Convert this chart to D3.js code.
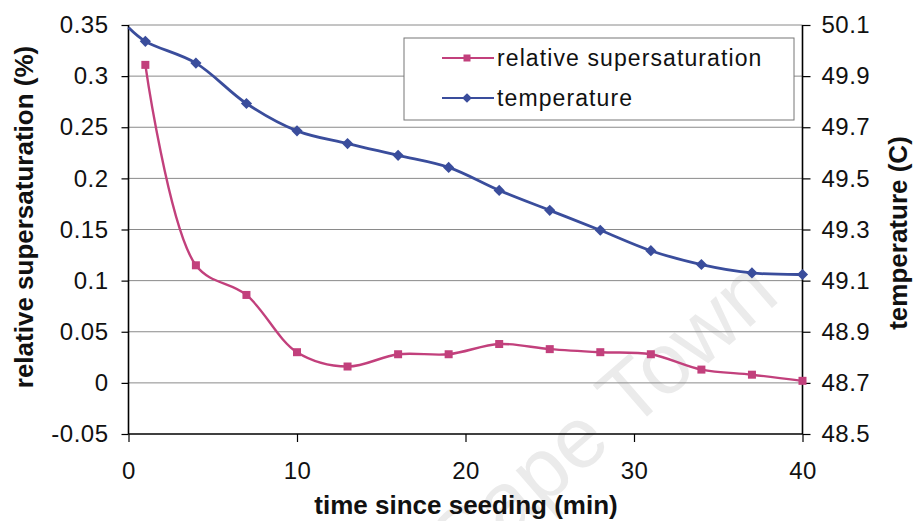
<!DOCTYPE html>
<html><head><meta charset="utf-8">
<script src="https://cdn.jsdelivr.net/npm/d3@7"></script>
<style>body{margin:0;background:#fff}svg{display:block}text{font-family:"Liberation Sans",Arial,sans-serif}</style>
</head><body>
<svg id="c" width="914" height="521"></svg>
<script>
const timeMin = [1, 4, 7, 10, 13, 16, 19, 22, 25, 28, 31, 34, 37, 40];
const supersat = [0.311, 0.115, 0.086, 0.030, 0.016, 0.028, 0.028, 0.038, 0.033, 0.030, 0.028, 0.013, 0.008, 0.002];
const tempTime = [0, 1, 4, 7, 10, 13, 16, 19, 22, 25, 28, 31, 34, 37, 40];
const temperature = [50.09, 50.036, 49.951, 49.793, 49.686, 49.636, 49.59, 49.543, 49.453, 49.375, 49.297, 49.217, 49.163, 49.13, 49.124];
const xTicks = [0, 10, 20, 30, 40];
const leftTicks = [-0.05, 0, 0.05, 0.1, 0.15, 0.2, 0.25, 0.3, 0.35];
const rightTicks = [48.5, 48.7, 48.9, 49.1, 49.3, 49.5, 49.7, 49.9, 50.1];
const seriesNames = ["relative supersaturation", "temperature"];

const pink = "#c2407c", blue = "#3a4d9c";
const svg = d3.select("#c");
const L = 128.5, R = 802.5, T = 25, B = 434;
const x = d3.scaleLinear().domain([0, 40]).range([L, R]);
const yL = d3.scaleLinear().domain([-0.05, 0.35]).range([B, T]);
const yR = d3.scaleLinear().domain([48.5, 50.1]).range([B, T]);

// watermark
svg.append("text").attr("transform", "translate(620,440) rotate(-41)")
  .attr("text-anchor", "middle").attr("font-size", 86).attr("fill", "#ebebeb")
  .text("Cape Town");

// gridlines
svg.append("g").selectAll("line").data(leftTicks.filter(d => d > -0.05)).join("line")
  .attr("x1", L).attr("x2", R).attr("y1", d => yL(d)).attr("y2", d => yL(d))
  .attr("stroke", "#8a8a8a").attr("stroke-width", 1);

const fmtL = d => String(+d.toFixed(2));
const fmtR = d => d.toFixed(1);

const gL = svg.append("g").attr("transform", `translate(${L},0)`)
  .call(d3.axisLeft(yL).tickValues(leftTicks).tickFormat(fmtL).tickSize(7).tickPadding(13));
const gR = svg.append("g").attr("transform", `translate(${R},0)`)
  .call(d3.axisRight(yR).tickValues(rightTicks).tickFormat(fmtR).tickSize(8).tickPadding(11));
const gB = svg.append("g").attr("transform", `translate(0,${B})`)
  .call(d3.axisBottom(x).tickValues(xTicks).tickSize(8).tickPadding(20));
[gL, gR, gB].forEach(g => {
  g.selectAll("path").attr("stroke", "#000").attr("stroke-width", 1.6);
  g.selectAll("line").attr("stroke", "#000").attr("stroke-width", 1.2);
  g.selectAll("text").attr("font-size", 24).attr("fill", "#111").attr("letter-spacing", 0.5)
    .attr("font-family", "'Liberation Sans', Arial, sans-serif");
});
gL.select(".domain").attr("d", `M0,${B}V${T}`);
gR.select(".domain").attr("d", `M0,${B}V${T}`);
gB.select(".domain").attr("d", `M${L},0H${R}`);

// lines
const curve = d3.curveCatmullRom.alpha(0.5);
const tData = tempTime.map((t, i) => [t, temperature[i]]);
const sData = timeMin.map((t, i) => [t, supersat[i]]);
svg.append("path").datum(tData)
  .attr("d", d3.line().x(d => x(d[0])).y(d => yR(d[1])).curve(curve))
  .attr("fill", "none").attr("stroke", blue).attr("stroke-width", 2.8);
svg.append("path").datum(sData)
  .attr("d", d3.line().x(d => x(d[0])).y(d => yL(d[1])).curve(curve))
  .attr("fill", "none").attr("stroke", pink).attr("stroke-width", 2.4);

// markers
svg.append("g").selectAll("path").data(tData.slice(1)).join("path")
  .attr("transform", d => `translate(${x(d[0])},${yR(d[1])})`)
  .attr("d", d3.symbol(d3.symbolDiamond2, 80)).attr("fill", blue);
svg.append("g").selectAll("rect").data(sData).join("rect")
  .attr("x", d => x(d[0]) - 4).attr("y", d => yL(d[1]) - 4)
  .attr("width", 8).attr("height", 8).attr("fill", pink);

// legend
const lg = svg.append("g");
lg.append("rect").attr("x", 404).attr("y", 38).attr("width", 390).attr("height", 82)
  .attr("fill", "#fff").attr("stroke", "#777").attr("stroke-width", 1);
const legY = [58, 98], legC = [pink, blue];
seriesNames.forEach((n, i) => {
  lg.append("line").attr("x1", 442).attr("x2", 494).attr("y1", legY[i]).attr("y2", legY[i])
    .attr("stroke", legC[i]).attr("stroke-width", 2);
  if (i === 0) lg.append("rect").attr("x", 463.5).attr("y", legY[i] - 3.5).attr("width", 7).attr("height", 7).attr("fill", pink);
  else lg.append("path").attr("transform", `translate(467,${legY[i]})`).attr("d", d3.symbol(d3.symbolDiamond2, 60)).attr("fill", blue);
  lg.append("text").attr("x", 497).attr("y", legY[i] + 7.5).attr("font-size", 23).attr("letter-spacing", 1.1)
    .attr("fill", "#111").text(n);
});

// titles
svg.append("text").attr("transform", "translate(33,217) rotate(-90)").attr("text-anchor", "middle")
  .attr("font-size", 26).attr("font-weight", "bold").attr("fill", "#111").text("relative supersaturation (%)");
svg.append("text").attr("transform", "translate(907,233) rotate(-90)").attr("text-anchor", "middle")
  .attr("font-size", 26).attr("font-weight", "bold").attr("fill", "#111").text("temperature (C)");
svg.append("text").attr("x", 466).attr("y", 514).attr("text-anchor", "middle")
  .attr("font-size", 26).attr("font-weight", "bold").attr("fill", "#111").text("time since seeding (min)");
</script>
</body></html>
